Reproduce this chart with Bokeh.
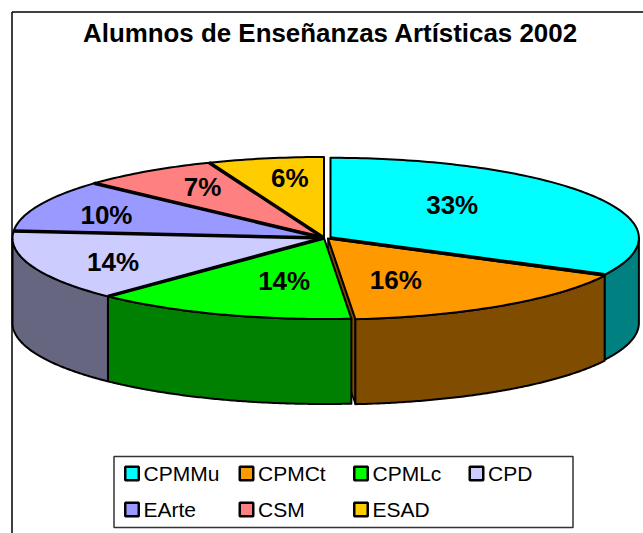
import numpy as np
from bokeh.plotting import figure
from bokeh.models import Range1d
from bokeh.core.properties import value
from bokeh.embed import file_html
from bokeh.resources import INLINE

title = "Alumnos de Enseñanzas Artísticas 2002"
categories = ["CPMMu", "CPMCt", "CPMLc", "CPD", "EArte", "CSM", "ESAD"]
shares = [32.6, 16.0, 13.6, 14.2, 10.4, 7.2, 6.0]
top_colors = ["#00FFFF", "#FF9900", "#00FF00", "#CCCCFF", "#9999FF", "#FF8080", "#FFCC00"]
wall_colors = ["#008080", "#804C00", "#008000", "#666680", "#4C4C80", "#804040", "#806600"]

# layout (screen pixels)
CX, CY, A, B, DEPTH = 323.5, 237.5, 311.5, 81.0, 85.0
EXPLODE_X = [6.5, 4, 0, 0, 0, 0, 0]
EXPLODE_Y = [0, 0.5, 0, 0, 0, 0, 0]
RADIUS_K = [0.99, 1, 1, 1, 1, 1, 1]
LABEL_NUDGE = [(-10, -12), (-19, 8), (12, 5), (-65, 10), (-75, -7), (-33, -18), (-5, -20)]
LABEL_FRAC = [0.5, 0.5, 0.5, 0.5, 0.5, 0.5, 0.5]
THICK_AFTER = [0, 2, 3, 4, 5]

p = figure(width=643, height=533, x_range=Range1d(0, 643), y_range=Range1d(533, 0),
           toolbar_location=None, output_backend="svg", min_border=0,
           background_fill_color="white", border_fill_color="white", outline_line_color=None)
p.axis.visible = False
p.grid.visible = False

# chart frame
p.line([11.5, 11.5], [533, 11.5], line_color="black", line_width=1.5)
p.line([11.5, 643], [11.5, 11.5], line_color="black", line_width=1.5)

total = sum(shares)
edges = np.concatenate([[0], np.cumsum(shares)]) / total * 2 * np.pi


def point(i, th, dz=0.0):
    k = RADIUS_K[i]
    return (CX + EXPLODE_X[i] + k * A * np.sin(th),
            CY + EXPLODE_Y[i] - k * B * np.cos(th) + dz)


# outer walls of the visible front half
for i in range(len(shares)):
    lo, hi = max(edges[i], np.pi / 2), min(edges[i + 1], 3 * np.pi / 2)
    if hi <= lo:
        continue
    th = np.linspace(lo, hi, 120)
    x0, y0 = point(i, th)
    x1, y1 = point(i, th[::-1], DEPTH)
    if i == 1:
        # cut face of the pulled-out slice
        tx, ty = CX + EXPLODE_X[i], CY + EXPLODE_Y[i]
        ex, ey = point(i, edges[i + 1])
        p.patch([tx, ex, ex, tx], [ty, ey, ey + DEPTH, ty + DEPTH],
                fill_color=wall_colors[i], line_color="black", line_width=1.5)
    p.patch(list(x0) + list(x1), list(y0) + list(y1), fill_color=wall_colors[i],
            line_color="black", line_width=2, line_join="round")

# top faces
for i in range(len(shares)):
    n = max(int((edges[i + 1] - edges[i]) * 60), 12)
    th = np.linspace(edges[i], edges[i + 1], n)
    x, y = point(i, th)
    tx, ty = CX + EXPLODE_X[i], CY + EXPLODE_Y[i]
    p.patch([tx] + list(x), [ty] + list(y), fill_color=top_colors[i],
            line_color="black", line_width=2, line_join="round")

# heavy spokes between slices
for i in THICK_AFTER:
    ex, ey = point(i, edges[i + 1])
    tx, ty = CX + EXPLODE_X[i], CY + EXPLODE_Y[i]
    p.line([tx, ex], [ty, ey], line_color="black", line_width=3.5)

# percentage labels
mid = (edges[:-1] + edges[1:]) / 2
lx, ly, lt = [], [], []
for i in range(len(shares)):
    px, py = point(i, mid[i])
    tx, ty = CX + EXPLODE_X[i], CY + EXPLODE_Y[i]
    lx.append(tx + (px - tx) * LABEL_FRAC[i] + LABEL_NUDGE[i][0])
    ly.append(ty + (py - ty) * LABEL_FRAC[i] + LABEL_NUDGE[i][1])
    lt.append(f"{round(shares[i] / total * 100)}%")
p.text(lx, ly, text=lt, text_font=value("Liberation Sans"), text_font_style="bold",
       text_font_size="26px", text_align="center", text_baseline="middle", text_color="black")

# title
p.text([330], [32.5], text=[title], text_font=value("Liberation Sans"), text_font_style="bold",
       text_font_size="25.9px", text_align="center", text_baseline="middle", text_color="black")

# legend
p.quad(left=[113.5], right=[572.5], top=[456], bottom=[527], fill_color="white",
       line_color="#333333", line_width=1.5)
col_x = [131.5, 246, 360.5, 476]
row_y = [473, 509]
sx = [col_x[i % 4] for i in range(len(categories))]
sy = [row_y[i // 4] for i in range(len(categories))]
p.rect(sx, sy, width=13.5, height=13.5, fill_color=top_colors, line_color="black", line_width=2.5)
p.text([x + 11.5 for x in sx], sy, text=categories, text_font=value("Liberation Sans"),
       text_font_size="21px", text_align="left", text_baseline="middle", text_color="black")

open("out.html", "w").write(file_html(p, INLINE))
